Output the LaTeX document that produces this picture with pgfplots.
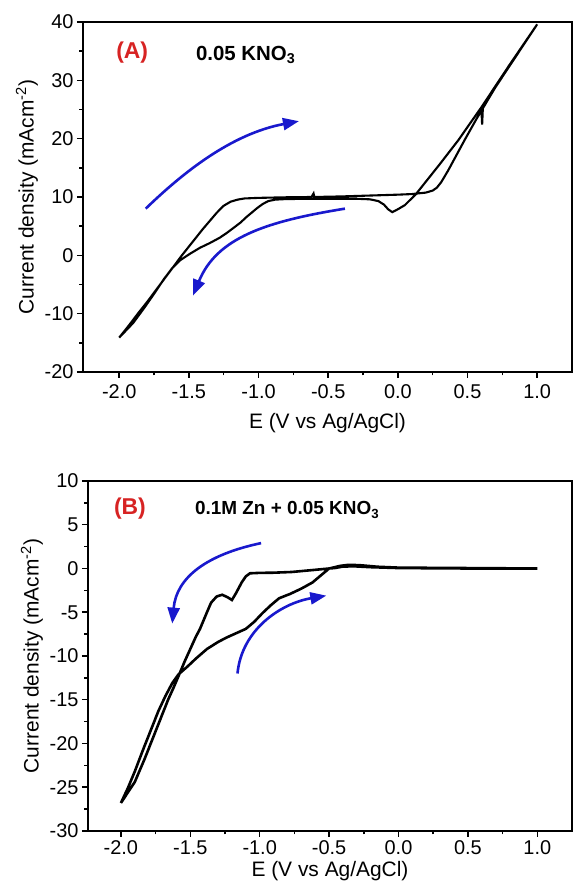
\documentclass[border=0pt]{standalone}
\usepackage{pgfplots}
\pgfplotsset{compat=1.18}
\usepackage{fontspec}
\setmainfont{Liberation Sans}
\usetikzlibrary{arrows.meta}
\definecolor{arrblue}{RGB}{25,25,205}
\definecolor{lblred}{RGB}{215,35,35}

\pgfplotsset{cv/.style={
  scale only axis, height=350bp,
  axis line style={line width=2bp},
  tick style={line width=1.5bp,black},
  major tick length=6bp, minor tick length=3.5bp,
  tick align=outside, tick pos=left,
  minor x tick num=1, minor y tick num=1,
  xtick={-2,-1.5,-1,-0.5,0,0.5,1},
  xmax=1.25,
  xticklabel style={/pgf/number format/fixed,/pgf/number format/fixed zerofill,/pgf/number format/precision=1},
  /pgf/number format/assume math mode=true,
  tick label style={font=\fontsize{20}{22}\selectfont},
  label style={font=\fontsize{21}{24}\selectfont},
  xlabel={E (V vs Ag/AgCl)},
  ylabel={Current density (mAcm\textsuperscript{-2})},
}}
\tikzset{cvarrow/.style={arrblue,line width=2.6bp,-{Triangle[length=16bp,width=12bp]}}}

\pgfplotstableread{
x y
-2.00 -14.1
-1.93 -12.0
-1.86 -9.8
-1.80 -8.0
-1.75 -6.4
-1.70 -4.8
-1.65 -3.2
-1.60 -1.6
-1.55 0.0
-1.50 1.5
-1.45 3.0
-1.40 4.5
-1.35 5.9
-1.30 7.3
-1.25 8.5
-1.20 9.2
-1.15 9.55
-1.10 9.75
-1.00 9.85
-0.80 9.95
-0.62 10.0
-0.605 10.6
-0.60 10.0
-0.40 10.1
-0.20 10.25
0.00 10.4
0.10 10.5
0.20 10.75
0.25 11.1
0.28 11.6
0.31 12.5
0.36 14.5
0.48 19.8
0.56 23.2
0.60 24.8
0.605 22.4
0.61 25.2
0.70 28.8
0.80 32.4
0.90 36.0
1.00 39.6
0.90 36.1
0.80 32.6
0.70 29.0
0.60 25.4
0.50 22.0
0.436 19.8
0.30 15.6
0.20 12.6
0.13 10.5
0.05 8.6
0.00 7.9
-0.04 7.4
-0.07 7.9
-0.10 8.7
-0.14 9.3
-0.20 9.6
-0.30 9.7
-0.60 9.7
-0.80 9.65
-0.88 9.55
-0.93 9.3
-0.97 8.8
-1.01 8.1
-1.05 7.3
-1.09 6.5
-1.13 5.6
-1.18 4.7
-1.23 3.8
-1.28 3.0
-1.35 2.1
-1.42 1.3
-1.49 0.3
-1.56 -0.8
-1.62 -2.2
-1.68 -4.1
-1.75 -6.6
-1.82 -9.0
-1.90 -11.6
-2.00 -14.1
}\cvA

\pgfplotstableread{
x y
-2.00 -26.8
-1.90 -24.4
-1.83 -21.8
-1.73 -17.8
-1.66 -15.0
-1.62 -13.6
-1.585 -12.3
-1.54 -10.6
-1.50 -9.2
-1.46 -7.8
-1.43 -6.9
-1.38 -5.0
-1.35 -3.9
-1.31 -3.2
-1.27 -3.0
-1.23 -3.3
-1.20 -3.6
-1.17 -2.8
-1.13 -1.6
-1.10 -0.9
-1.07 -0.55
-1.00 -0.5
-0.90 -0.48
-0.77 -0.4
-0.60 -0.15
-0.50 0.0
-0.42 0.3
-0.36 0.42
-0.28 0.38
-0.15 0.2
0.00 0.1
0.50 0.05
1.00 0.0
0.50 0.0
0.00 0.05
-0.20 0.15
-0.32 0.25
-0.40 0.22
-0.46 0.05
-0.50 0.0
-0.56 -0.8
-0.62 -1.6
-0.70 -2.3
-0.78 -2.9
-0.86 -3.4
-0.92 -4.2
-0.98 -5.1
-1.04 -6.1
-1.10 -6.9
-1.17 -7.4
-1.24 -7.9
-1.30 -8.4
-1.38 -9.2
-1.46 -10.3
-1.52 -11.2
-1.585 -12.1
-1.63 -13.1
-1.68 -14.6
-1.73 -16.3
-1.78 -18.3
-1.84 -20.7
-1.90 -23.2
-1.95 -25.1
-2.00 -26.8
}\cvB

\begin{document}
\begin{tikzpicture}
\useasboundingbox (0bp,0bp) rectangle (573bp,890bp);
\begin{axis}[cv, at={(83bp,518bp)}, anchor=south west, width=489bp,
  xmin=-2.26, ymin=-20, ymax=40, ytick={-20,-10,0,10,20,30,40},
  xticklabel style={yshift=-3bp}, xlabel style={yshift=-8bp}]
\addplot[black,line width=2.1bp] table {\cvA};
\draw[cvarrow] (axis cs:-1.81,8.0) .. controls (axis cs:-1.55,14.0) and (axis cs:-1.2,20.8) .. (axis cs:-0.71,23.0);
\draw[cvarrow] (axis cs:-0.38,8.0) .. controls (axis cs:-0.95,5.8) and (axis cs:-1.3,3.0) .. (axis cs:-1.47,-6.9);
\node[font=\fontsize{23}{25}\selectfont\bfseries,text=lblred] at (axis cs:-1.907,34.7) {(A)};
\node[font=\fontsize{20.5}{23}\selectfont\bfseries,anchor=west,inner sep=0pt] at (axis cs:-1.45,34.3) {0.05 KNO\textsubscript{3}};
\end{axis}
\begin{axis}[cv, at={(88bp,59bp)}, anchor=south west, width=484bp,
  xmin=-2.237, ymin=-30, ymax=10, ytick={-30,-25,...,10}]
\addplot[black,line width=2.6bp] table {\cvB};
\draw[cvarrow] (axis cs:-0.99,2.9) .. controls (axis cs:-1.38,1.6) and (axis cs:-1.6,-1.0) .. (axis cs:-1.63,-6.3);
\draw[cvarrow] (axis cs:-1.16,-12.0) .. controls (axis cs:-1.13,-7.0) and (axis cs:-0.85,-4.0) .. (axis cs:-0.52,-3.1);
\node[font=\fontsize{23}{25}\selectfont\bfseries,text=lblred] at (axis cs:-1.935,6.9) {(B)};
\node[font=\fontsize{19}{21}\selectfont\bfseries,anchor=west,inner sep=0pt] at (axis cs:-1.467,6.7) {0.1M Zn + 0.05 KNO\textsubscript{3}};
\end{axis}
\end{tikzpicture}
\end{document}
